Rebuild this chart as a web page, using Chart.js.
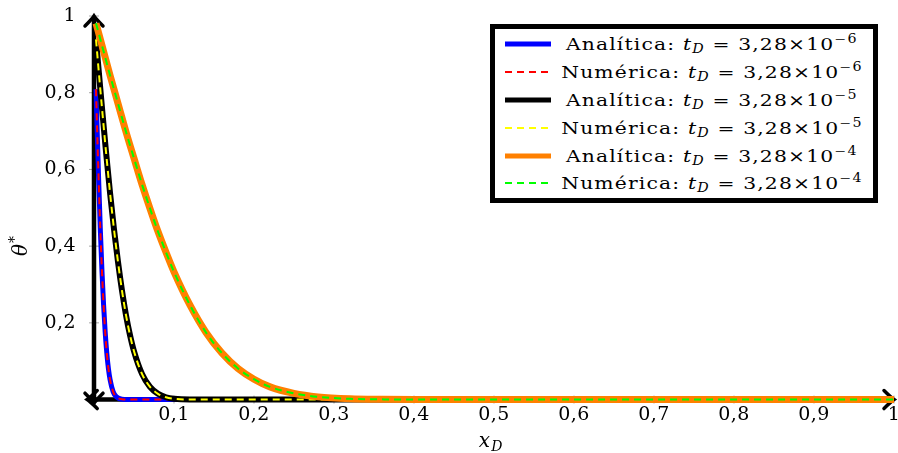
<!DOCTYPE html>
<html>
<head>
<meta charset="utf-8">
<script src="https://cdn.jsdelivr.net/npm/chart.js@4"></script>
<style>
  html, body { margin: 0; padding: 0; background: #fff; }
  #wrap { position: relative; width: 898px; height: 453px; }
  #legend {
    position: absolute; left: 490px; top: 24px; width: 388px; height: 179px;
    box-sizing: border-box; border: 5px solid #000; background: #fff;
    font-family: 'DejaVu Serif', serif; font-size: 17.5px; color: #000;
    padding-top: 1px;
  }
  #legend .row { height: 27.9px; display: flex; align-items: center; }
  #legend svg { margin-left: 10px; flex: none; }
  #legend .cell { flex: 1; text-align: center; }
  #legend .txt { display: inline-block; letter-spacing: 1px; white-space: nowrap; transform: scaleX(1.16); }
  #legend sub, #legend sup { font-size: 0.7em; line-height: 0; }
  #legend sup { vertical-align: 0.55em; }
  #legend sub { vertical-align: -0.25em; }
</style>
</head>
<body>
<div id="wrap">
  <canvas id="chart" width="898" height="453"></canvas>
  <div id="legend"></div>
</div>
<script>
// theta* profiles along x_D for three dimensionless times
const xBlue = [0.0025, 0.004, 0.006, 0.008, 0.010, 0.012, 0.014, 0.016, 0.018, 0.020, 0.024, 0.028, 0.035, 0.05, 0.1, 0.3, 0.6, 1];
const yBlue = [0.809, 0.698, 0.561, 0.438, 0.333, 0.246, 0.175, 0.121, 0.081, 0.053, 0.020, 0.007, 0.001, 0, 0, 0, 0, 0];

const xBlack = [0.0025, 0.005, 0.01, 0.015, 0.02, 0.025, 0.03, 0.035, 0.04, 0.045, 0.05, 0.06, 0.07, 0.08, 0.09, 0.1, 0.12, 0.15, 0.3, 0.6, 1];
const yBlack = [0.939, 0.878, 0.760, 0.646, 0.540, 0.444, 0.359, 0.284, 0.220, 0.168, 0.126, 0.067, 0.033, 0.015, 0.006, 0.002, 0, 0, 0, 0, 0];

const xOrange = [0.0025, 0.01, 0.02, 0.03, 0.04, 0.05, 0.06, 0.07, 0.08, 0.09, 0.10, 0.12, 0.14, 0.16, 0.18, 0.20, 0.22, 0.25, 0.28, 0.32, 0.36, 0.4, 0.5, 0.7, 1];
const yOrange = [0.981, 0.923, 0.846, 0.772, 0.698, 0.629, 0.561, 0.498, 0.438, 0.384, 0.333, 0.246, 0.175, 0.121, 0.081, 0.053, 0.033, 0.016, 0.007, 0.002, 0.0005, 0, 0, 0, 0];

const timeExponents = ['−6', '−6', '−5', '−5', '−4', '−4'];
const methodNames = ['Analítica', 'Numérica', 'Analítica', 'Numérica', 'Analítica', 'Numérica'];

const xTicks = [0.1, 0.2, 0.3, 0.4, 0.5, 0.6, 0.7, 0.8, 0.9, 1];
const xTickLabels = ['0,1', '0,2', '0,3', '0,4', '0,5', '0,6', '0,7', '0,8', '0,9', '1'];
const yTicks = [0.2, 0.4, 0.6, 0.8, 1];
const yTickLabels = ['0,2', '0,4', '0,6', '0,8', '1'];

const toPoints = (xs, ys) => xs.map((x, i) => ({x, y: ys[i]}));

function solid(xs, ys, color, width) {
  return {data: toPoints(xs, ys), borderColor: color, borderWidth: width, legendWidth: 5};
}
function dashed(xs, ys, color) {
  return {data: toPoints(xs, ys), borderColor: color, borderWidth: 2, borderDash: [7, 5], legendWidth: 2};
}

const datasets = [
  solid(xBlue, yBlue, '#0000ff', 5),
  dashed(xBlue, yBlue, '#ff0000'),
  solid(xBlack, yBlack, '#000000', 6),
  dashed(xBlack, yBlack, '#ffff00'),
  solid(xOrange, yOrange, '#ff8000', 7),
  dashed(xOrange, yOrange, '#00ff00')
].map((d, i) => Object.assign(d, {
  label: methodNames[i] + ': t_D = 3,28×10^' + timeExponents[i],
  order: -i, // later series on top
  pointRadius: 0,
  fill: false,
  cubicInterpolationMode: 'monotone'
}));

const SERIF = "'DejaVu Serif', serif";

function arrow(ctx, tx, ty, dx, dy) {
  // curved TeX-style arrow tip pointing along (dx, dy)
  const px = -dy, py = dx, len = 10, half = 9;
  ctx.beginPath();
  ctx.moveTo(tx - dx * len + px * half, ty - dy * len + py * half);
  ctx.quadraticCurveTo(tx - dx * 3 + px * 2, ty - dy * 3 + py * 2, tx, ty);
  ctx.quadraticCurveTo(tx - dx * 3 - px * 2, ty - dy * 3 - py * 2,
    tx - dx * len - px * half, ty - dy * len - py * half);
  ctx.stroke();
}

const spacing = {
  id: 'spacing',
  beforeUpdate(chart) { chart.ctx.letterSpacing = '0.5px'; },
  beforeDraw(chart) { chart.ctx.letterSpacing = '0.5px'; }
};

const middleAxes = {
  id: 'middleAxes',
  beforeDatasetsDraw(chart) {
    const {ctx, chartArea: a, scales: {x, y}} = chart;
    const x0 = x.getPixelForValue(0), y0 = y.getPixelForValue(0);
    ctx.save();
    ctx.strokeStyle = '#a8a8a8';
    ctx.lineWidth = 1;
    x.ticks.forEach(t => {
      const p = x.getPixelForValue(t.value);
      ctx.beginPath(); ctx.moveTo(p, y0 - 4); ctx.lineTo(p, y0 + 4); ctx.stroke();
    });
    y.ticks.forEach(t => {
      const p = y.getPixelForValue(t.value);
      ctx.beginPath(); ctx.moveTo(x0 - 5, p); ctx.lineTo(x0 + 5, p); ctx.stroke();
    });
    ctx.strokeStyle = '#000';
    ctx.lineWidth = 4.5;
    ctx.beginPath();
    ctx.moveTo(a.left + 1, y0); ctx.lineTo(a.right - 1, y0);
    ctx.moveTo(x0, a.top + 1); ctx.lineTo(x0, a.bottom - 1);
    ctx.stroke();
    ctx.lineWidth = 3.5;
    ctx.lineCap = 'round';
    arrow(ctx, a.right, y0, 1, 0);
    arrow(ctx, a.left, y0, -1, 0);
    arrow(ctx, x0, a.top, 0, -1);
    arrow(ctx, x0, a.bottom, 0, 1);
    ctx.restore();
  },
  afterDraw(chart) {
    const {ctx, chartArea: a} = chart;
    ctx.save();
    ctx.letterSpacing = '0px';
    ctx.fillStyle = '#000';
    // x_D below the axis
    ctx.textBaseline = 'alphabetic';
    ctx.font = 'italic 20px ' + SERIF;
    const cx = (a.left + a.right) / 2;
    const wx = ctx.measureText('x').width;
    ctx.font = 'italic 14px ' + SERIF;
    const wd = ctx.measureText('D').width;
    const sx = cx - (wx + wd + 1) / 2;
    ctx.font = 'italic 20px ' + SERIF;
    ctx.fillText('x', sx, 447);
    ctx.font = 'italic 14px ' + SERIF;
    ctx.fillText('D', sx + wx + 1, 451);
    // theta* along the left side
    ctx.translate(27, 247);
    ctx.rotate(-Math.PI / 2);
    ctx.font = 'italic 20px ' + SERIF;
    const wt = ctx.measureText('θ').width;
    ctx.fillText('θ', -wt / 2 - 3, 0);
    ctx.font = '14px ' + SERIF;
    ctx.fillText('*', wt / 2 - 2, -8);
    ctx.restore();
  }
};

const noEdgePadding = s => {
  s.paddingLeft = 0; s.paddingRight = 0; s.paddingTop = 0; s.paddingBottom = 0;
};

const chart = new Chart(document.getElementById('chart'), {
  type: 'line',
  data: {datasets},
  options: {
    responsive: false,
    animation: false,
    devicePixelRatio: 1,
    layout: {padding: {left: 30, right: 4, top: 16, bottom: 27}},
    plugins: {legend: {display: false}, tooltip: {enabled: false}},
    scales: {
      x: {
        type: 'linear',
        min: -0.0085,
        max: 1,
        afterBuildTicks: s => { s.ticks = xTicks.map(v => ({value: v})); },
        afterFit: noEdgePadding,
        ticks: {
          callback: (v, i) => xTickLabels[i],
          autoSkip: false, maxRotation: 0, padding: 0,
          color: '#000', font: {family: SERIF, size: 19}
        },
        grid: {display: false, drawTicks: false},
        border: {display: false}
      },
      y: {
        type: 'linear',
        min: -0.0095,
        max: 1,
        afterBuildTicks: s => { s.ticks = yTicks.map(v => ({value: v})); },
        afterFit: s => { noEdgePadding(s); s.width = 57.2; },
        ticks: {
          callback: (v, i) => yTickLabels[i],
          autoSkip: false, padding: 11,
          color: '#000', font: {family: SERIF, size: 19}
        },
        grid: {display: false, drawTicks: false},
        border: {display: false}
      }
    }
  },
  plugins: [spacing, middleAxes]
});

// legend rows built from the datasets
const legend = document.getElementById('legend');
chart.data.datasets.forEach((d, i) => {
  const row = document.createElement('div');
  row.className = 'row';
  const dash = d.borderDash ? `stroke-dasharray="${d.borderDash.join(' ')}"` : '';
  row.innerHTML =
    `<svg width="46" height="10"><line x1="0" y1="5" x2="46" y2="5" stroke="${d.borderColor}" ` +
    `stroke-width="${d.legendWidth}" ${dash}/></svg>` +
    `<span class="cell"><span class="txt">${methodNames[i]}: <i>t</i><sub><i>D</i></sub> = ` +
    `3,28×10<sup>${timeExponents[i]}</sup></span></span>`;
  legend.appendChild(row);
});
</script>
</body>
</html>
